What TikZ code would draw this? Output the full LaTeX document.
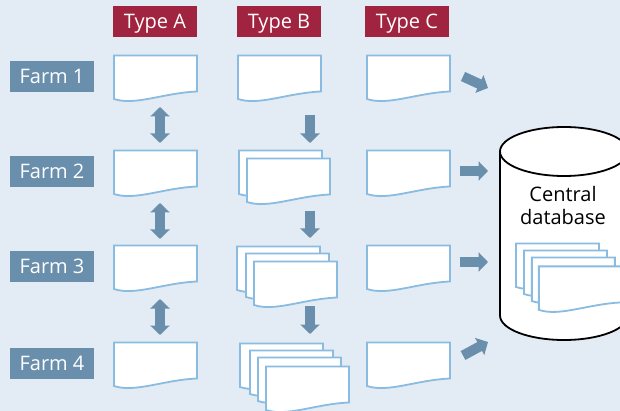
\documentclass[tikz,border=0pt]{standalone}
\usepackage{fontspec}
\setmainfont{Open Sans}
\usetikzlibrary{calc,arrows.meta}
\definecolor{pagebg}{HTML}{E3EBF5}
\definecolor{typered}{HTML}{A0243F}
\definecolor{farmblue}{HTML}{6A8FAD}
\definecolor{sheetblue}{HTML}{8ABBE0}
\tikzset{
  typebox/.style={fill=typered,text=white,minimum width=84pt,minimum height=31pt,inner sep=0pt,text height=16.5pt,text depth=2.5pt,font=\fontsize{20}{24}\selectfont},
  farmbox/.style={fill=farmblue,text=white,minimum width=84pt,minimum height=31pt,inner sep=0pt,text height=16.5pt,text depth=2.5pt,font=\fontsize{20}{24}\selectfont},
  onearrow/.style={draw=farmblue,line width=10pt,-{Triangle[length=9.5pt,width=19pt]}},
  botharrow/.style={draw=farmblue,line width=10pt,{Triangle[length=9.5pt,width=19pt]}-{Triangle[length=9.5pt,width=19pt]}},
  sheet/.pic={
    \draw[draw=sheetblue,fill=white,line width=1.8pt] (1,0.5) -- (84,0.5) -- (84,36.5) .. controls (50,38) and (22,51) .. (1,44) -- cycle;
    \coordinate (-head) at (42,0);
    \coordinate (-foot) at (42,44);
    \coordinate (-side) at (84,18);
  }
}
\begin{document}
\begin{tikzpicture}[x=1pt,y=-1pt]
\clip (0,0) rectangle (620,411);
\fill[pagebg] (0,0) rectangle (620,411);
\node[typebox] (typeA) at (155,21.5) {Type A};
\node[typebox] (typeB) at (279,21.5) {Type B};
\node[typebox] (typeC) at (407,21.5) {Type C};
\node[farmbox] (farm1) at (52,76.5) {Farm 1};
\node[farmbox] (farm2) at (52,171.5) {Farm 2};
\node[farmbox] (farm3) at (52,266.5) {Farm 3};
\node[farmbox] (farm4) at (52,363.5) {Farm 4};
\pic (a1) at (113,55) {sheet};
\pic (a2) at (113,150) {sheet};
\pic (a3) at (113,245) {sheet};
\pic (a4) at (113,342) {sheet};
\pic (b1) at (237,55) {sheet};
\pic (b2a) at (238,150) {sheet};
\pic (b2b) at (246,158) {sheet};
\pic (b3a) at (236,246) {sheet};
\pic (b3b) at (245,253) {sheet};
\pic (b3c) at (253,261) {sheet};
\pic (b4a) at (239,343) {sheet};
\pic (b4b) at (249,350) {sheet};
\pic (b4c) at (257,357) {sheet};
\pic (b4d) at (265,366) {sheet};
\pic (c1) at (366,55) {sheet};
\pic (c2) at (366,150) {sheet};
\pic (c3) at (366,245) {sheet};
\pic (c4) at (366,342) {sheet};
\draw[botharrow] ($(a1-foot)+(5,8)$) -- ($(a2-head)+(5,-7)$);
\draw[botharrow] ($(a2-foot)+(5,9)$) -- ($(a3-head)+(5,-6)$);
\draw[botharrow] ($(a3-foot)+(5,10)$) -- ($(a4-head)+(5,-7)$);
\draw[onearrow] ($(b1-foot)+(31,16)$) -- ($(b2a-head)+(30,-7)$);
\draw[onearrow] ($(b2b-foot)+(22,9)$) -- ($(b3a-head)+(32,-8)$);
\draw[onearrow] ($(b3c-foot)+(15,1)$) -- ($(b4a-head)+(29,-9)$);
\draw[onearrow] ($(c1-side)+(13,3.5)$) -- ($(c1-side)+(38,15)$);
\draw[onearrow] ($(c2-side)+(10,3)$) -- ($(c2-side)+(38,3)$);
\draw[onearrow] ($(c3-side)+(10,-1)$) -- ($(c3-side)+(38,-1)$);
\draw[onearrow] ($(c4-side)+(13,-4.5)$) -- ($(c4-side)+(38,-18)$);
\draw[fill=white,line width=1.8pt] (500,151.5) -- (500,315.5) arc[start angle=180,end angle=0,x radius=64,y radius=24.5] -- (628,151.5);
\draw[fill=white,line width=1.8pt] (564,151.5) ellipse[x radius=64,y radius=24.5];
\node[align=center,font=\fontsize{20}{23}\selectfont] (central) at (563,205.5) {Central\\database};
\begin{scope}[shift={(515,243)},scale=0.88]
\pic (d1) at (0,0) {sheet};
\pic (d2) at (9,8) {sheet};
\pic (d3) at (18,16) {sheet};
\pic (d4) at (26,26) {sheet};
\end{scope}
\end{tikzpicture}
\end{document}
